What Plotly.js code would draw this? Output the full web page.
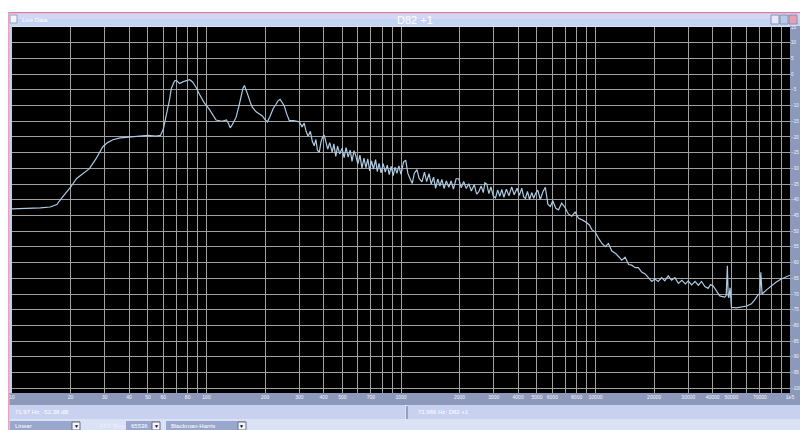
<!DOCTYPE html>
<html><head><meta charset="utf-8">
<script src="https://cdn.plot.ly/plotly-3.0.1.min.js"></script>
<style>html,body{margin:0;padding:0;background:#fff}#chart{width:800px;height:430px}</style>
</head><body><div id="chart"></div><script>
// Low-frequency part (Hz, dB)
const freqLow = [10,12,14,15.7,17,18,20,21.5,23,25,27,29.3,31,33,36,40,45,50,55,58,60,62,64.6,66,68.5,70,72.7,76,80,82,84.8,88,92,97,103.5,108,112,120,126.6,130,132.4,136,142,147,150.7,154,156.7,160,164,168,172,180,193.7,200,205.6,212,220,227.6,233,239,245,251,258,266.5,280,300];
const levelLow = [-42.9,-42.8,-42.6,-42.3,-41.5,-39.5,-36,-33.2,-31.8,-30.1,-27,-23.1,-21.8,-20.9,-20.3,-20.0,-19.7,-19.5,-19.7,-19.5,-17.5,-13.5,-8.0,-4.5,-2.2,-2.0,-3.0,-2.4,-1.9,-1.8,-2.5,-4.0,-6.4,-9.0,-11.2,-13,-14.6,-15.0,-14.6,-15.8,-17.1,-16.0,-13.7,-10,-7.0,-4.5,-3.6,-5,-7.0,-9,-10.5,-12,-13.3,-14.5,-15.2,-13.5,-11,-9.6,-8.5,-8.0,-9.0,-10.1,-12.5,-14.8,-14.8,-15.2];
// Mid part, noisy
const freqMid = [310,318,325,333,342,350,358,365,372,380,388,395,403,412,420,430,443,452,462,472,484,498,510,522,535,548,560,573,586,600,615,630,645,660,675,690,705,722,740,755,771,790,810,830,850,870,890,912,932,953,975,1000,1030,1057,1085,1115,1143,1170,1208,1240,1282,1320,1355,1393,1430,1470,1507,1545,1585,1622,1665,1710,1762,1810,1860,1920,1982,2040,2100,2165,2232,2300,2380,2450,2512,2580,2650,2700,2761,2830,2900,2980,3061,3140,3220,3296,3380,3480,3590,3707,3820,3950,4060,4178,4270,4365,4470,4580,4700,4811,4911,5050,5200,5360,5521,5690,5861,6030,6250,6457,6700,6998,7250,7551,7850,8183,8550,9018,9300,9572,9950];
const levelMid = [-16.8,-15.6,-18.2,-19.8,-18.2,-21.4,-22.8,-20.8,-24.3,-24.8,-21.6,-20.0,-19.4,-22.0,-23.9,-21.8,-24.8,-22.2,-26.2,-22.9,-25.4,-23.6,-26.6,-23.4,-26.4,-24.2,-27.8,-24.4,-26.0,-28.6,-25.8,-30.0,-26.7,-29.8,-27.0,-30.8,-27.6,-30.2,-27.2,-31.0,-28.4,-31.4,-28.5,-31.2,-29.0,-32.0,-29.4,-32.3,-29.6,-31.6,-29.2,-31.9,-28.0,-27.4,-31.6,-33.4,-34.8,-31.6,-30.4,-33.2,-34.3,-31.2,-34.2,-31.7,-35.0,-32.8,-36.4,-33.4,-35.6,-33.5,-36.4,-34.0,-36.0,-34.0,-36.6,-33.3,-33.3,-36.2,-34.2,-36.4,-34.9,-37.2,-35.2,-38.2,-37.4,-35.6,-37.7,-34.6,-35.0,-38.0,-35.9,-38.8,-39.4,-36.9,-38.9,-36.7,-39.2,-36.6,-38.7,-35.9,-38.4,-36.3,-38.6,-36.3,-39.1,-39.6,-37.3,-39.9,-37.7,-39.5,-38.1,-36.9,-39.9,-37.5,-36.0,-41.4,-42.1,-40.3,-42.7,-43.2,-41.1,-42.6,-44.5,-45.2,-43.9,-45.9,-46.4,-47.3,-48.0,-49.5,-50.2];
// High part, roll-off and floor
const freqHigh = [10357,10800,11220,11650,12134,12700,13200,13650,14200,14800,15360,16000,16600,17270,18000,18700,19450,20200,21000,21880,22700,23660,24600,25600,26670,27800,29000,30000,31190,32500,33800,35080,36500,37930,39000,40270,41800,43550,45000,46200,47000,47640,48100,48500,49200,50000,53000,56230,60000,63340,66000,68550,70000,70790,71300,71830,76000,80170,85000,90200,95000,100000];
const levelHigh = [-52.2,-53.9,-54.9,-53.9,-56.3,-57.1,-58.2,-59.2,-58.3,-60.6,-60.8,-61.6,-61.6,-63.0,-63.6,-64.8,-66.0,-65.2,-66.0,-64.8,-65.8,-64.2,-65.6,-64.8,-66.6,-65.6,-66.8,-65.8,-67.1,-66.0,-67.2,-66.0,-67.6,-68.2,-67.0,-67.4,-69.0,-70.6,-70.8,-71.0,-70.4,-61.0,-70.6,-71.2,-68.0,-74.2,-74.4,-74.2,-73.8,-73.1,-71.8,-70.2,-70.0,-63.1,-69.9,-70.0,-68.6,-67.3,-66.2,-65.2,-64.6,-64.0];

const xTickVals = [10,20,30,40,50,60,70,80,90,100,200,300,400,500,600,700,800,900,1000,2000,3000,4000,5000,6000,7000,8000,9000,10000,20000,30000,40000,50000,60000,70000,80000,90000,100000];
const xTickText = ['10','20','30','40','50','60','','80','','100','200','300','400','500','','700','','','1000','2000','3000','4000','5000','6000','','8000','','10000','20000','30000','40000','50000','','70000','','','1e5'];
const yTickVals = [15,10,5,0,-5,-10,-15,-20,-25,-30,-35,-40,-45,-50,-55,-60,-65,-70,-75,-80,-85,-90,-95,-100];

const titleText = 'D82 +1';
const statusLeft = '71.97 Hz, -52.38 dB';
const statusRight = '71.966 Hz: D82 +1';

const W=800,H=430,L=12,R=10,T=27,B=37;
const pw=W-L-R, ph=H-T-B;
const fx = px => (px-L)/pw;
const fy = py => (H-B-py)/ph;
function rect(x0,y0,x1,y1,fill,lc){
  return {type:'rect',xref:'paper',yref:'paper',x0:fx(x0),x1:fx(x1),y0:fy(y1),y1:fy(y0),
    fillcolor:fill,line:{width:lc?1:0,color:lc||fill},layer:'below'};
}
function txt(x,y,t,size,color,anchor){
  return {xref:'paper',yref:'paper',x:fx(x),y:fy(y),text:t,showarrow:false,
    xanchor:anchor||'left',yanchor:'middle',font:{family:'Liberation Sans, Arial, sans-serif',size:size,color:color}};
}
const shapes = [
  rect(8,12,800,430,'#dce2f6'),
  rect(L,T,W-R,H-B,'#000000'),
  rect(8,12,800,13.5,'#e07a98'),
  rect(8,12,9.5,430,'#e7a3bb'),
  rect(9.5,13.5,800,19,'#d4d6f6'),
  rect(9.5,19,800,26,'#c3d3f2'),
  rect(9.5,26,12,393,'#c3cbe6'),
  rect(790,26,800,405,'#8d99ba'),
  rect(9.5,393,800,405,'#8d99ba'),
  rect(9.5,405,405,419,'#c9d1f1'),
  rect(408,405,800,419,'#c9d1f1'),
  {type:'line',xref:'paper',yref:'paper',x0:fx(407),x1:fx(407),y0:fy(406),y1:fy(419),line:{color:'#5a5f7a',width:1},layer:'below'},
  rect(10,421,80,430,'#9aa7cc'),
  rect(72,422,80,430,'#f4f5fa','#6a6f88'),
  rect(126,421,160,430,'#9aa7cc'),
  rect(152,422,160,430,'#f4f5fa','#6a6f88'),
  rect(166,421,246,430,'#9aa7cc'),
  rect(238,422,246,430,'#f4f5fa','#6a6f88'),
  rect(771,15,779,24,'#e6e9f5','#8890b0'),
  rect(780,15,788,24,'#b9c9e8','#8890b0'),
  rect(789,15,797,24,'#e8a0b0','#8890b0'),
  rect(10,15,17,23,'#f2f3fb','#9aa0c0')
];
const annotations = [
  txt(415,19.5,titleText,11,'#ffffff','center'),
  txt(20,19.5,'Live Data',6,'#ffffff'),
  txt(13,412,statusLeft,6,'#ffffff'),
  txt(416,412,statusRight,6,'#ffffff'),
  txt(13,426,'Linear',6,'#ffffff'),
  txt(76,426,'▼',5,'#000000','center'),
  txt(98,426,'FFT Size',6,'#eef0fa'),
  txt(129,426,'65536',6,'#ffffff'),
  txt(156,426,'▼',5,'#000000','center'),
  txt(169,426,'Blackman-Harris',6,'#ffffff'),
  txt(242,426,'▼',5,'#000000','center')
];

const trace = {
  x: freqLow.concat(freqMid, freqHigh),
  y: levelLow.concat(levelMid, levelHigh),
  type:'scatter', mode:'lines',
  line:{color:'#aecbe2', width:1.2},
  hoverinfo:'skip'
};

const layout = {
  width:W, height:H,
  margin:{l:L,r:R,t:T,b:B,pad:0},
  paper_bgcolor:'#ffffff',
  plot_bgcolor:'#000000',
  showlegend:false,
  xaxis:{type:'log', range:[1,5], tickvals:xTickVals, ticktext:xTickText, tickangle:0,
    showgrid:true, gridcolor:'#a0a0a0', gridwidth:1, zeroline:false, showline:false,
    ticks:'', tickfont:{family:'Liberation Sans, Arial, sans-serif', size:5, color:'#f2f4fb'}, fixedrange:true},
  yaxis:{side:'right', range:[-101.5,15], tickvals:yTickVals, tickangle:0,
    showgrid:true, gridcolor:'#a0a0a0', gridwidth:1, zeroline:false, showline:false,
    ticks:'', tickfont:{family:'Liberation Sans, Arial, sans-serif', size:4.5, color:'#f2f4fb'}, fixedrange:true},
  shapes:shapes,
  annotations:annotations
};
Plotly.newPlot('chart',[trace],layout,{displayModeBar:false,staticPlot:true});
</script></body></html>
